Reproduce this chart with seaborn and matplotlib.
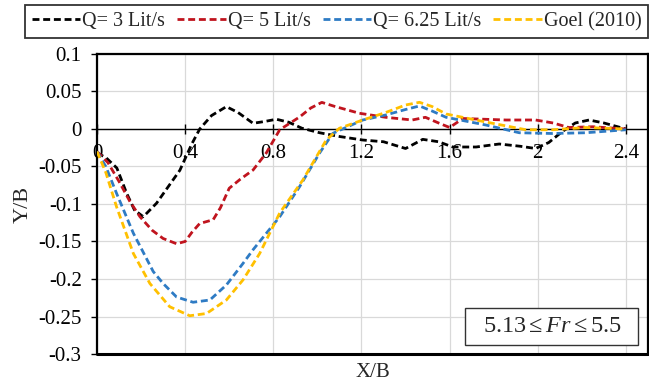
import matplotlib
matplotlib.use("Agg")
import matplotlib.pyplot as plt
from matplotlib.patches import Rectangle
import seaborn as sns
import pandas as pd

# ---- data ----
x_q3 = [0, 0.04, 0.09, 0.135, 0.17, 0.21, 0.27, 0.376, 0.43, 0.466, 0.52, 0.587, 0.64, 0.708, 0.76,
        0.814, 0.87, 0.93, 1.01, 1.1, 1.206, 1.3, 1.40, 1.478, 1.55, 1.614, 1.72, 1.825, 1.92,
        1.99, 2.05, 2.11, 2.17, 2.233, 2.3, 2.4]
y_q3 = [-0.032, -0.038, -0.052, -0.086, -0.108, -0.117, -0.099, -0.055, -0.02, 0.0, 0.018, 0.0298,
        0.022, 0.0076, 0.01, 0.013, 0.009, 0.001, -0.005, -0.01, -0.0147, -0.017, -0.026, -0.0138,
        -0.017, -0.024, -0.024, -0.02, -0.023, -0.026, -0.018, -0.0036, 0.008, 0.012, 0.008, 0.0]

x_q5 = [0, 0.05, 0.1, 0.15, 0.195, 0.25, 0.3, 0.361, 0.40, 0.43, 0.466, 0.527, 0.56, 0.60, 0.65,
        0.708, 0.768, 0.829, 0.919, 0.97, 1.02, 1.08, 1.19, 1.31, 1.43, 1.49, 1.55, 1.60, 1.66,
        1.855, 1.99, 2.07, 2.14, 2.25, 2.4]
y_q5 = [-0.03, -0.045, -0.07, -0.097, -0.117, -0.135, -0.146, -0.153, -0.15, -0.138, -0.126,
        -0.121, -0.105, -0.079, -0.067, -0.0547, -0.032, -0.001, 0.016, 0.028, 0.0355, 0.03,
        0.021, 0.0156, 0.012, 0.0156, 0.008, 0.002, 0.014, 0.012, 0.012, 0.008, 0.002, 0.003, 0.0]

x_q625 = [0, 0.04, 0.089, 0.165, 0.255, 0.30, 0.361, 0.436, 0.512, 0.587, 0.663, 0.708, 0.829,
          0.919, 1.01, 1.07, 1.206, 1.31, 1.40, 1.463, 1.52, 1.584, 1.765, 1.916, 2.067, 2.218, 2.4]
y_q625 = [-0.03, -0.05, -0.086, -0.139, -0.19, -0.206, -0.224, -0.231, -0.228, -0.208, -0.179,
          -0.161, -0.117, -0.077, -0.032, -0.0058, 0.012, 0.0187, 0.026, 0.0307, 0.024, 0.0156,
          0.0053, -0.005, -0.006, -0.005, -0.001]

x_goel = [0, 0.04, 0.089, 0.165, 0.24, 0.33, 0.421, 0.497, 0.587, 0.663, 0.738, 0.829, 0.934,
          1.04, 1.10, 1.206, 1.31, 1.40, 1.463, 1.52, 1.584, 1.765, 1.946, 2.067, 2.218, 2.4]
y_goel = [-0.03, -0.058, -0.104, -0.166, -0.206, -0.237, -0.249, -0.246, -0.228, -0.201, -0.166,
          -0.112, -0.068, -0.0147, 0.001, 0.012, 0.022, 0.032, 0.0356, 0.03, 0.02, 0.0093, -0.001,
          -0.001, 0.002, 0.0]

labels = ["Q= 3 Lit/s", "Q= 5 Lit/s", "Q= 6.25 Lit/s", "Goel (2010)"]
colors = ["#000000", "#C0141E", "#2E7BC4", "#FFC000"]
x_ticks = [0, 0.4, 0.8, 1.2, 1.6, 2, 2.4]
x_tick_labels = ["0", "0.4", "0.8", "1.2", "1.6", "2", "2.4"]
y_ticks = [0.1, 0.05, 0, -0.05, -0.1, -0.15, -0.2, -0.25, -0.3]
y_tick_labels = ["0.1", "0.05", "0", "-0.05", "-0.1", "-0.15", "-0.2", "-0.25", "-0.3"]

sns.set_theme(style="white")
plt.rcParams["font.family"] = ["Liberation Serif", "DejaVu Serif"]
plt.rcParams["mathtext.fontset"] = "custom"
plt.rcParams["mathtext.rm"] = "Liberation Serif"
plt.rcParams["mathtext.it"] = "Liberation Serif:italic"

fig = plt.figure(figsize=(6.49, 3.83), dpi=100)
ax = fig.add_axes([97 / 649, 1 - 354 / 383, 551 / 649, 300 / 383])

series = [(x_q3, y_q3), (x_q5, y_q5), (x_q625, y_q625), (x_goel, y_goel)]
handles = []
for (xs, ys), lab, col in zip(series, labels, colors):
    df = pd.DataFrame({"x": xs, "y": ys})
    sns.lineplot(data=df, x="x", y="y", ax=ax, sort=False, color=col, lw=2.0,
                 estimator=None, zorder=3, legend=False)
    ln = ax.lines[-1]
    ln.set_dashes((2.5, 1.35))
    ln.set_dash_joinstyle("round")
    handles.append(ln)

ax.set_xlim(0, 2.5)
ax.set_ylim(-0.3, 0.1)
ax.set_xticks(x_ticks)
ax.set_xticklabels(x_tick_labels)
ax.set_yticks(y_ticks)
ax.set_yticklabels(y_tick_labels)
ax.grid(True, color="#d9d9d9", lw=0.9)
ax.set_axisbelow(True)

for s in ["top", "right", "left"]:
    ax.spines[s].set_color("black")
    ax.spines[s].set_linewidth(1.6)
ax.spines["bottom"].set_position(("data", 0))
ax.spines["bottom"].set_color("black")
ax.spines["bottom"].set_linewidth(1.0)
ax.axhline(-0.3, color="black", lw=2.2, clip_on=False, zorder=5)

ax.tick_params(axis="x", direction="inout", length=7, width=1, pad=7,
               labelsize=15, colors="black", bottom=True)
ax.tick_params(axis="y", direction="out", length=4, width=1, pad=7,
               labelsize=15, colors="black", left=True)

ax.set_xlabel("X/B", fontsize=15)
ax.xaxis.set_label_coords(0.5, -0.03)
ax.set_ylabel("Y/B", fontsize=16)
ax.yaxis.set_label_coords(-0.116, 0.5)

ax.add_patch(Rectangle(((465 - 97) / 551, (354 - 345) / 300), 173 / 551, 37 / 300,
                       transform=ax.transAxes, fc="white", ec="#333333", lw=1, zorder=6))
ax.text(0.826, 0.092, r"5.13$\leq$$\it{Fr}$$\leq$5.5", transform=ax.transAxes,
        ha="center", va="center", fontsize=17.5, zorder=7)

leg = fig.legend(handles=handles, labels=labels, loc="upper left",
                 bbox_to_anchor=(25 / 649, 1 - 5 / 383), ncol=4, fontsize=14.5,
                 frameon=True, fancybox=False, edgecolor="black", handlelength=2.4,
                 handletextpad=0.1, columnspacing=0.6, borderpad=0.35,
                 borderaxespad=0)
leg.get_frame().set_linewidth(1.3)

fig.savefig("out.png", dpi=100)
